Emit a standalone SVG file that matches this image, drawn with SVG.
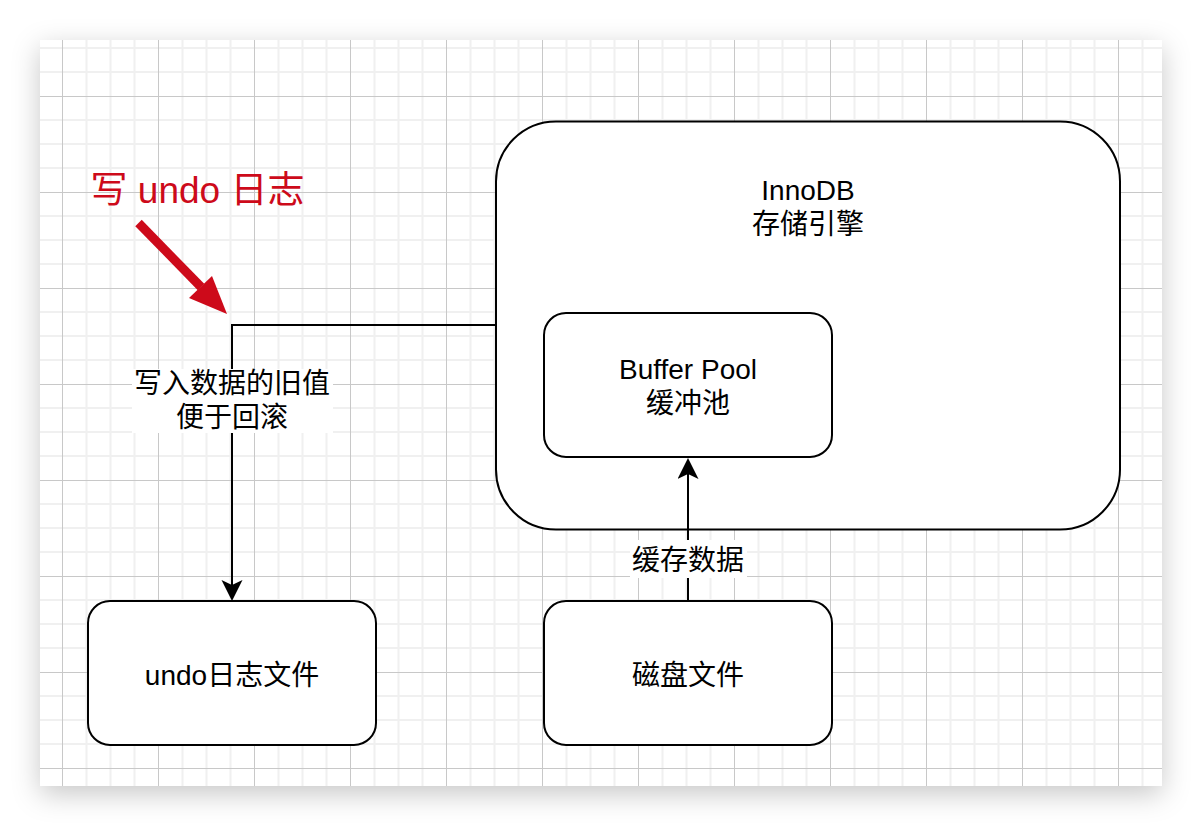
<svg xmlns="http://www.w3.org/2000/svg" width="1202" height="826" viewBox="0 0 1202 826">
<defs>
<style>
.t{font-family:"Liberation Sans","Noto Sans CJK SC",sans-serif;font-size:28px;fill:#000;text-anchor:middle}
.red{font-family:"Liberation Sans","Noto Sans CJK SC",sans-serif;font-size:37px;fill:#cd0a1a;text-anchor:middle}
.box{fill:#fff;stroke:#000;stroke-width:2}
.edge{fill:none;stroke:#000;stroke-width:2}
.lbg{fill:#fff}
</style>
<filter id="sh" x="-10%" y="-10%" width="120%" height="125%">
<feDropShadow dx="0" dy="8" stdDeviation="14" flood-color="#000" flood-opacity="0.22"/>
</filter>
<pattern id="grid" x="62" y="96" width="96" height="96" patternUnits="userSpaceOnUse">
<path d="M24.5,0V96M48.5,0V96M72.5,0V96M0,24H96M0,48H96M0,72H96" stroke="#f0f0f0" stroke-width="2" fill="none"/>
<path d="M0.5,0V96M0,0.5H96" stroke="#c8c8c8" stroke-width="1" fill="none"/>
</pattern>
<marker id="arr" markerUnits="userSpaceOnUse" markerWidth="22" markerHeight="22" refX="5" refY="10.5" orient="auto">
<path d="M0,0L21,10.5L0,21L5,10.5Z" fill="#000"/>
</marker>
</defs>
<rect width="1202" height="826" fill="#fff"/>
<rect x="40" y="40" width="1122" height="746" fill="#fff" filter="url(#sh)"/>
<rect x="40" y="40" width="1122" height="746" fill="url(#grid)"/>

<g id="innodb">
<rect class="box" x="496" y="121.5" width="624" height="408" rx="60" ry="60"/>
<text class="t" x="808" y="200">InnoDB</text>
<text class="t" x="808" y="234">存储引擎</text>
</g>
<g id="bufferpool">
<rect class="box" x="544" y="313" width="288" height="144" rx="22" ry="22"/>
<text class="t" x="688" y="379">Buffer Pool</text>
<text class="t" x="688" y="413">缓冲池</text>
</g>
<g id="undofile">
<rect class="box" x="88" y="601" width="288" height="144" rx="22" ry="22"/>
<text class="t" x="232" y="685">undo日志文件</text>
</g>
<g id="diskfile">
<rect class="box" x="544" y="601" width="288" height="144" rx="22" ry="22"/>
<text class="t" x="688" y="685">磁盘文件</text>
</g>

<g id="connectors">
<g id="e-undo">
<path class="edge" d="M496,325H232V585" marker-end="url(#arr)"/>
<rect class="lbg" x="132" y="369" width="201" height="64"/>
<text class="t" x="232" y="393">写入数据的旧值</text>
<text class="t" x="232" y="427">便于回滚</text>
</g>
<g id="e-cache">
<path class="edge" d="M688,601V474" marker-end="url(#arr)"/>
<rect class="lbg" x="630" y="540" width="117" height="38"/>
<text class="t" x="688" y="570">缓存数据</text>
</g>
</g>

<g id="annotation">
<text class="red" x="197.5" y="203">写 undo 日志</text>
<line x1="138.5" y1="223" x2="201" y2="287" stroke="#cd0a1a" stroke-width="9"/>
<path d="M227,314L189,298L212,276Z" fill="#cd0a1a"/>
</g>
</svg>
